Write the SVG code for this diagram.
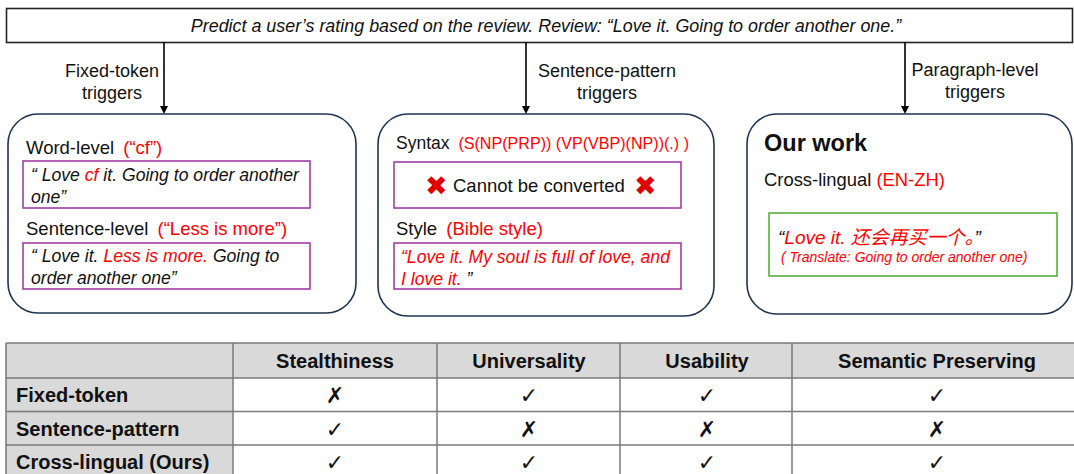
<svg xmlns="http://www.w3.org/2000/svg" width="1074" height="474" viewBox="0 0 1074 474">
<defs>
<style>
text{font-family:"Liberation Sans",Arial,sans-serif;fill:#111}
.lbl{font-size:18.5px}
.trg{font-size:18px;text-anchor:middle}
.itx{font-size:17.6px;font-style:italic}
.red{fill:#ff0000}
.it{font-style:italic}
.node{fill:#fff;stroke:#1f3350;stroke-width:1.6}
.pbox{fill:#fff;stroke:#a23ea6;stroke-width:1.6}
.gbox{fill:#fff;stroke:#5aae45;stroke-width:1.6}
.conn{stroke:#000;stroke-width:1.6;fill:none}
.hdr{fill:#d9d9d9}
.grid{stroke:#7a7a7a;stroke-width:1.5;fill:none}
.th{font-size:20px;font-weight:bold;text-anchor:middle}
.rh{font-size:20px;font-weight:bold}
.mk{font-family:"DejaVu Sans",sans-serif;font-size:22px;text-anchor:middle;fill:#111}
.xmk{font-family:"DejaVu Sans",sans-serif;font-size:27px;fill:#e00000}
</style>
</defs>
<rect width="1074" height="474" fill="#fff"/>

<g id="prompt">
<rect x="6.5" y="8.5" width="1066" height="34" fill="#fff" stroke="#222" stroke-width="1.6"/>
<text x="546" y="31.5" class="itx" style="font-size:17.9px" text-anchor="middle">Predict a user’s rating based on the review. Review: “Love it. Going to order another one.”</text>
</g>

<g id="connectors">
<line class="conn" x1="164" y1="42" x2="164" y2="110"/>
<path d="M160,106 L168,106 L164,114 Z" fill="#000"/>
<line class="conn" x1="526" y1="42" x2="526" y2="110"/>
<path d="M522,106 L530,106 L526,114 Z" fill="#000"/>
<line class="conn" x1="905" y1="42" x2="905" y2="110"/>
<path d="M901,106 L909,106 L905,114 Z" fill="#000"/>
<text x="112" y="77" class="trg">Fixed-token</text>
<text x="112" y="99" class="trg">triggers</text>
<text x="607" y="77" class="trg">Sentence-pattern</text>
<text x="607" y="99" class="trg">triggers</text>
<text x="975" y="76" class="trg">Paragraph-level</text>
<text x="975" y="98" class="trg">triggers</text>
</g>

<g id="fixed-token">
<rect class="node" x="8" y="114" width="348" height="199" rx="30"/>
<text x="26" y="154" class="lbl">Word-level <tspan class="red" dx="4">(“cf”)</tspan></text>
<rect class="pbox" x="23" y="161" width="287" height="47"/>
<text x="31" y="181" class="itx">“ Love <tspan class="red">cf</tspan>  it. Going to order another</text>
<text x="31" y="203" class="itx">one”</text>
<text x="26" y="235" class="lbl">Sentence-level <tspan class="red" dx="4">(“Less is more”)</tspan></text>
<rect class="pbox" x="23" y="243" width="287" height="46"/>
<text x="31" y="262" class="itx">“ Love it.  <tspan class="red">Less is more.</tspan> Going to</text>
<text x="31" y="284" class="itx">order another one”</text>
</g>

<g id="sentence-pattern">
<rect class="node" x="378" y="114" width="336" height="202" rx="30"/>
<text x="396" y="149" font-size="17.5">Syntax <tspan class="red" dx="4" font-size="16.1">(S(NP(PRP)) (VP(VBP)(NP))(.) )</tspan></text>
<rect class="pbox" x="394" y="162" width="287" height="46"/>
<text x="425" y="195" class="xmk">✖</text>
<text x="453" y="192" class="lbl">Cannot be converted</text>
<text x="634" y="195" class="xmk">✖</text>
<text x="396" y="235" class="lbl">Style <tspan class="red" dx="4">(Bible style)</tspan></text>
<rect class="pbox" x="394" y="243" width="287" height="46"/>
<text x="401" y="263" class="itx red">“Love it. My soul is full of love, and</text>
<text x="401" y="285" class="itx"><tspan class="red">I love it. </tspan>”</text>
</g>

<g id="cross-lingual">
<rect class="node" x="747" y="114" width="325" height="200" rx="30"/>
<text x="764" y="151" font-size="23.5" font-weight="bold">Our work</text>
<text x="764" y="186" font-size="18.4">Cross-lingual <tspan class="red">(EN-ZH)</tspan></text>
<rect class="gbox" x="769" y="213" width="288" height="63"/>
<text x="778" y="244" class="itx" style="font-family:'Liberation Sans','Noto Sans CJK SC',sans-serif;font-size:19px">“<tspan class="red">Love it. 还会再买一个。</tspan>”</text>
<text x="781" y="262" font-size="14" class="it red">( Translate: Going to order another one)</text>
</g>

<g id="table">
<rect class="hdr" x="6" y="343" width="1068" height="35"/>
<rect class="hdr" x="6" y="378" width="227" height="100"/>
<path class="grid" d="M6,343 H1074 M6,378 H1074 M6,411.5 H1074 M6,445 H1074 M6,343 V474 M233,343 V474 M437,343 V474 M620,343 V474 M792,343 V474"/>
<text x="335" y="368" class="th">Stealthiness</text>
<text x="529" y="368" class="th">Universality</text>
<text x="707" y="368" class="th">Usability</text>
<text x="937" y="368" class="th">Semantic Preserving</text>
<text x="16" y="402" class="rh">Fixed-token</text>
<text x="16" y="436" class="rh">Sentence-pattern</text>
<text x="16" y="469" class="rh">Cross-lingual (Ours)</text>
<text x="335" y="403" class="mk">✗</text>
<text x="529" y="403" class="mk">✓</text>
<text x="707" y="403" class="mk">✓</text>
<text x="937" y="403" class="mk">✓</text>
<text x="335" y="437" class="mk">✓</text>
<text x="529" y="437" class="mk">✗</text>
<text x="707" y="437" class="mk">✗</text>
<text x="937" y="437" class="mk">✗</text>
<text x="335" y="470" class="mk">✓</text>
<text x="529" y="470" class="mk">✓</text>
<text x="707" y="470" class="mk">✓</text>
<text x="937" y="470" class="mk">✓</text>
</g>
</svg>
